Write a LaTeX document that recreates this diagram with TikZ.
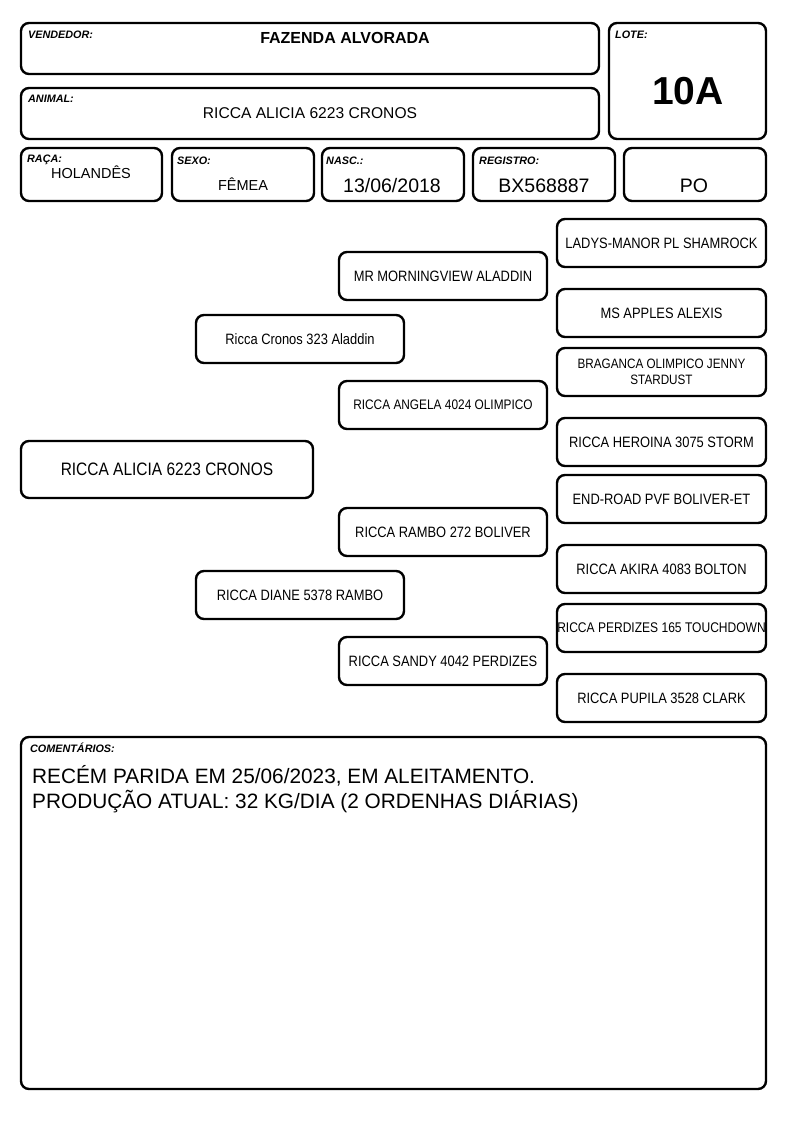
\documentclass[tikz,border=0pt]{standalone}
\usepackage{fontspec}
\setmainfont{Liberation Sans}
\newfontfamily\narrowfont[FakeStretch=0.86]{Liberation Sans}
\begin{document}
\begin{tikzpicture}[x=1pt,y=-1pt,
  box/.style={draw=black,line width=2.4pt,rounded corners=8pt,inner sep=0pt,align=center},
  lbl/.style={anchor=base west,inner sep=0pt,font=\fontsize{10.8}{12}\selectfont\bfseries\itshape},
  val/.style={inner sep=0pt,font=\fontsize{16}{19}\selectfont},
  ped/.style={box,font=\narrowfont\fontsize{15}{17}\selectfont}]
\useasboundingbox (0,0) rectangle (794,1123);
% header
\node[box,minimum width=578,minimum height=51] (vend) at (310,48.5) {};
\node[box,minimum width=578,minimum height=51] (anim) at (310,113.5) {};
\node[box,minimum width=157,minimum height=116] (lote) at (687.5,81) {};
\node[box,minimum width=141,minimum height=53] (raca) at (91.5,174.5) {};
\node[box,minimum width=142,minimum height=53] (sexo) at (243,174.5) {};
\node[box,minimum width=142,minimum height=53] (nasc) at (393,174.5) {};
\node[box,minimum width=142,minimum height=53] (reg) at (544,174.5) {};
\node[box,minimum width=142,minimum height=53] (po) at (695,174.5) {};
\node[lbl] (lvend) at (28,39) {VENDEDOR:};
\node[lbl] (lanim) at (28,103) {ANIMAL:};
\node[lbl] (llote) at (615,39) {LOTE:};
\node[lbl] (lraca) at (27,163) {RAÇA:};
\node[lbl] (lsexo) at (177,165) {SEXO:};
\node[lbl] (lnasc) at (326,165) {NASC.:};
\node[lbl] (lreg) at (479,165) {REGISTRO:};
\node[val,font=\fontsize{16}{19}\selectfont\bfseries] (tvend) at (345,38) {FAZENDA ALVORADA};
\node[val,font=\fontsize{15.6}{19}\selectfont] (tanim) at (310,113) {RICCA ALICIA 6223 CRONOS};
\node[val,font=\fontsize{39}{44}\selectfont\bfseries] (tlote) at (688,91) {10A};
\node[val,font=\fontsize{14.5}{17}\selectfont] (traca) at (91,172) {HOLANDÊS};
\node[val,font=\fontsize{14.5}{17}\selectfont] (tsexo) at (243,184) {FÊMEA};
\node[val,font=\fontsize{19.5}{22}\selectfont] (tnasc) at (392,186) {13/06/2018};
\node[val,font=\fontsize{19.5}{22}\selectfont] (treg) at (544,186) {BX568887};
\node[val,font=\fontsize{19.5}{22}\selectfont] (tpo) at (694,186) {PO};
% pedigree
\node[ped,minimum width=292,minimum height=57,font=\narrowfont\fontsize{18}{20}\selectfont] (main) at (167,469.5) {RICCA ALICIA 6223 CRONOS};
\node[ped,minimum width=208,minimum height=48] (s) at (300,339) {Ricca Cronos 323 Aladdin};
\node[ped,minimum width=208,minimum height=48] (d) at (300,595) {RICCA DIANE 5378 RAMBO};
\node[ped,minimum width=208,minimum height=48] (ss) at (443,276) {MR MORNINGVIEW ALADDIN};
\node[ped,minimum width=208,minimum height=48,font=\narrowfont\fontsize{13.8}{16}\selectfont] (sd) at (443,405) {RICCA ANGELA 4024 OLIMPICO};
\node[ped,minimum width=208,minimum height=48] (ds) at (443,532) {RICCA RAMBO 272 BOLIVER};
\node[ped,minimum width=208,minimum height=48] (dd) at (443,661) {RICCA SANDY 4042 PERDIZES};
\node[ped,minimum width=209,minimum height=48] (sss) at (661.5,243) {LADYS-MANOR PL SHAMROCK};
\node[ped,minimum width=209,minimum height=48] (ssd) at (661.5,313) {MS APPLES ALEXIS};
\node[ped,minimum width=209,minimum height=48,font=\narrowfont\fontsize{13.6}{15.5}\selectfont] (sds) at (661.5,372) {BRAGANCA OLIMPICO JENNY\\STARDUST};
\node[ped,minimum width=209,minimum height=48] (sdd) at (661.5,442) {RICCA HEROINA 3075 STORM};
\node[ped,minimum width=209,minimum height=48] (dss) at (661.5,499) {END-ROAD PVF BOLIVER-ET};
\node[ped,minimum width=209,minimum height=48] (dsd) at (661.5,569) {RICCA AKIRA 4083 BOLTON};
\node[ped,minimum width=209,minimum height=48,font=\narrowfont\fontsize{14}{16}\selectfont] (dds) at (661.5,628) {RICCA PERDIZES 165 TOUCHDOWN};
\node[ped,minimum width=209,minimum height=48] (ddd) at (661.5,698) {RICCA PUPILA 3528 CLARK};
% comments
\node[box,minimum width=745,minimum height=352] (com) at (393.5,913) {};
\node[lbl] (lcom) at (30,752) {COMENTÁRIOS:};
\node[anchor=north west,inner sep=0pt,align=left,font=\fontsize{20.8}{25}\selectfont] (tcom) at (32,765) {RECÉM PARIDA EM 25/06/2023, EM ALEITAMENTO.\\PRODUÇÃO ATUAL: 32 KG/DIA (2 ORDENHAS DIÁRIAS)};
\end{tikzpicture}
\end{document}
